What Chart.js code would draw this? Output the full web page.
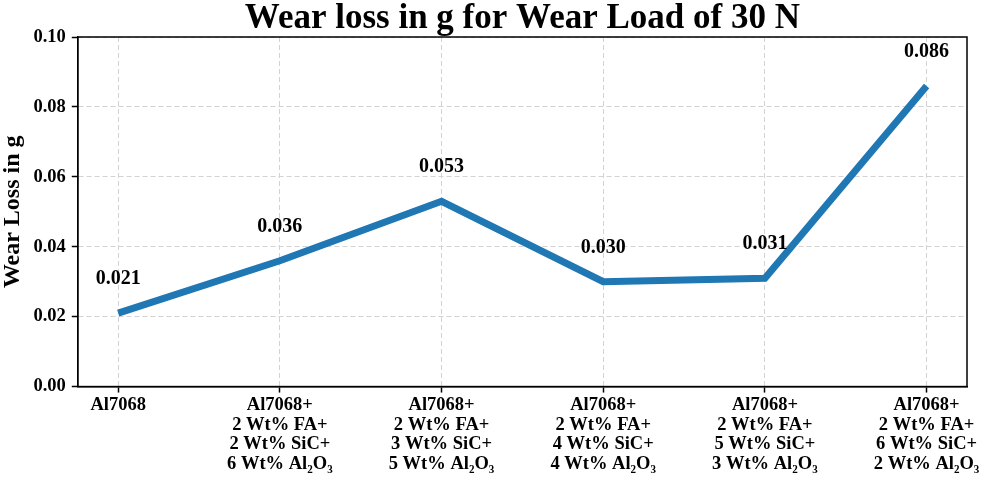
<!DOCTYPE html>
<html>
<head>
<meta charset="utf-8">
<script src="https://cdn.jsdelivr.net/npm/chart.js@4.4.1/dist/chart.umd.min.js"></script>
<style>
html,body{margin:0;padding:0;background:#fff;}
#wrap{width:987px;height:477px;}
</style>
</head>
<body>
<div id="wrap"><canvas id="c"></canvas></div>
<script>
const categories = [
  ["Al7068"],
  ["Al7068+", "2 Wt% FA+", "2 Wt% SiC+", "6 Wt% Al₂O₃"],
  ["Al7068+", "2 Wt% FA+", "3 Wt% SiC+", "5 Wt% Al₂O₃"],
  ["Al7068+", "2 Wt% FA+", "4 Wt% SiC+", "4 Wt% Al₂O₃"],
  ["Al7068+", "2 Wt% FA+", "5 Wt% SiC+", "3 Wt% Al₂O₃"],
  ["Al7068+", "2 Wt% FA+", "6 Wt% SiC+", "2 Wt% Al₂O₃"]
];
const wearLoss = [0.021, 0.036, 0.053, 0.030, 0.031, 0.086];
const yTicks = [0.00, 0.02, 0.04, 0.06, 0.08, 0.10];

const FONT = "'Liberation Serif', 'Times New Roman', serif";

const boxPlugin = {
  id: 'box',
  afterDraw(chart) {
    const a = chart.chartArea, ctx = chart.ctx;
    ctx.save();
    ctx.strokeStyle = '#000';
    ctx.lineWidth = 1.5;
    ctx.strokeRect(a.left, a.top, a.right - a.left, a.bottom - a.top);
    ctx.restore();
  }
};

const labelPlugin = {
  id: 'vlabels',
  afterDatasetsDraw(chart) {
    const ctx = chart.ctx, xs = chart.scales.x, ys = chart.scales.y;
    ctx.save();
    ctx.font = "bold 20px " + FONT;
    ctx.fillStyle = '#000';
    ctx.textAlign = 'center';
    ctx.textBaseline = 'middle';
    wearLoss.forEach((v, i) => {
      ctx.fillText(v.toFixed(3), xs.getPixelForValue(i), ys.getPixelForValue(v) - 34);
    });
    ctx.restore();
  }
};

const gridOpts = {
  color: '#d3d3d3',
  lineWidth: 1,
  tickLength: 6,
  tickColor: '#000',
  tickBorderDash: [],
  tickWidth: 1.5
};
const borderOpts = {display: true, color: '#000', width: 1.5, dash: [5, 3]};

new Chart(document.getElementById('c'), {
  type: 'line',
  data: {
    datasets: [{
      data: wearLoss.map((v, i) => ({x: i, y: v})),
      borderColor: '#1f77b4',
      borderWidth: 7,
      pointRadius: 0,
      tension: 0,
      fill: false,
      borderCapStyle: 'butt',
      borderJoinStyle: 'miter'
    }]
  },
  options: {
    responsive: true,
    maintainAspectRatio: false,
    animation: false,
    layout: {padding: {left: 0, right: 20, top: 0, bottom: 0}},
    plugins: {
      legend: {display: false},
      tooltip: {enabled: false},
      title: {
        display: true,
        fullSize: false,
        text: 'Wear loss in g for Wear Load of 30 N',
        color: '#000',
        font: {family: FONT, size: 35, weight: 'bold', lineHeight: 1.0},
        padding: {top: 1, bottom: 1}
      }
    },
    scales: {
      x: {
        type: 'linear',
        min: -0.25,
        max: 5.25,
        afterBuildTicks(scale) { scale.ticks = categories.map((c, i) => ({value: i})); },
        ticks: {
          callback: (v) => categories[v],
          color: '#000',
          font: {family: FONT, size: 18.5, weight: 'bold', lineHeight: 1.06},
          maxRotation: 0,
          autoSkip: false,
          padding: 3
        },
        grid: gridOpts,
        border: borderOpts
      },
      y: {
        min: 0,
        max: 0.1,
        afterBuildTicks(scale) { scale.ticks = yTicks.map(v => ({value: v})); },
        ticks: {
          callback: (v) => v.toFixed(2),
          color: '#000',
          font: {family: FONT, size: 18.5, weight: 'bold'},
          padding: 6
        },
        title: {
          display: true,
          text: 'Wear Loss in g',
          color: '#000',
          font: {family: FONT, size: 24, weight: 'bold', lineHeight: 1.1},
          padding: {top: 0, bottom: 1}
        },
        grid: gridOpts,
        border: borderOpts
      }
    }
  },
  plugins: [boxPlugin, labelPlugin]
});
</script>
</body>
</html>
